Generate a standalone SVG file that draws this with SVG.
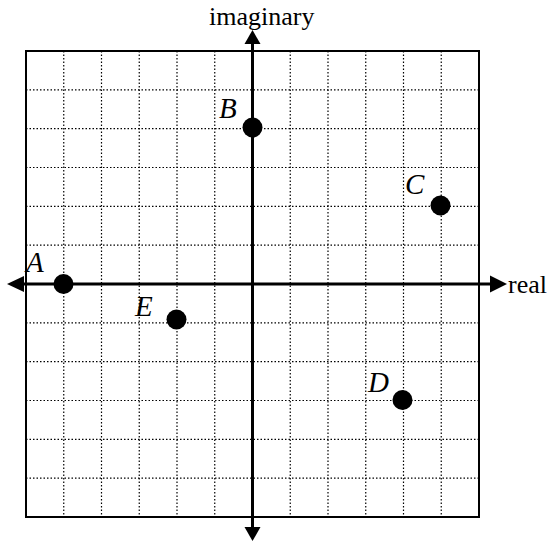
<svg xmlns="http://www.w3.org/2000/svg" width="551" height="544" viewBox="0 0 551 544">
<style>
.grid{stroke:#000;stroke-width:1.2;stroke-dasharray:1.5,2;fill:none}
.border{stroke:#000;stroke-width:2;fill:none}
.axis{stroke:#000;stroke-width:3;fill:none}
.lbl{font-family:"Liberation Serif",serif;font-style:italic;font-size:29px;fill:#000}
.ax{font-family:"Liberation Serif",serif;font-size:26px;fill:#000}
.pt{fill:#000}
</style>
<rect width="551" height="544" fill="#fff"/>
<g id="grid">
<path class="grid" d="M63.75 51V517M101.5 51V517M139.25 51V517M177 51V517M214.75 51V517M290.25 51V517M328 51V517M365.75 51V517M403.5 51V517M441.25 51V517"/>
<path class="grid" d="M26 89.8H479M26 128.7H479M26 167.5H479M26 206.3H479M26 245.2H479M26 322.8H479M26 361.7H479M26 400.5H479M26 439.3H479M26 478.2H479"/>
<rect class="border" x="26" y="51" width="453" height="466"/>
</g>
<g id="connectors">
<line class="axis" x1="22" y1="284" x2="491" y2="284"/>
<line class="axis" x1="252.5" y1="43" x2="252.5" y2="527"/>
<polygon points="7,284 24,276 24,292"/>
<polygon points="507,284 490,275.5 490,292.5"/>
<polygon points="252.5,30 244.5,44 260.5,44"/>
<polygon points="252.5,541 244.5,527 260.5,527"/>
</g>
<g id="axis-labels">
<text class="ax" x="209" y="25">imaginary</text>
<text class="ax" x="508" y="293">real</text>
</g>
<g id="A"><circle class="pt" cx="63.5" cy="284" r="10"/><text class="lbl" x="26" y="272">A</text></g>
<g id="B"><circle class="pt" cx="252.5" cy="127.5" r="10"/><text class="lbl" x="219" y="118">B</text></g>
<g id="C"><circle class="pt" cx="440.5" cy="205.5" r="10"/><text class="lbl" x="405" y="194">C</text></g>
<g id="D"><circle class="pt" cx="402.5" cy="400" r="10"/><text class="lbl" x="368" y="392">D</text></g>
<g id="E"><circle class="pt" cx="176.5" cy="319.5" r="10"/><text class="lbl" x="135" y="316">E</text></g>
</svg>
